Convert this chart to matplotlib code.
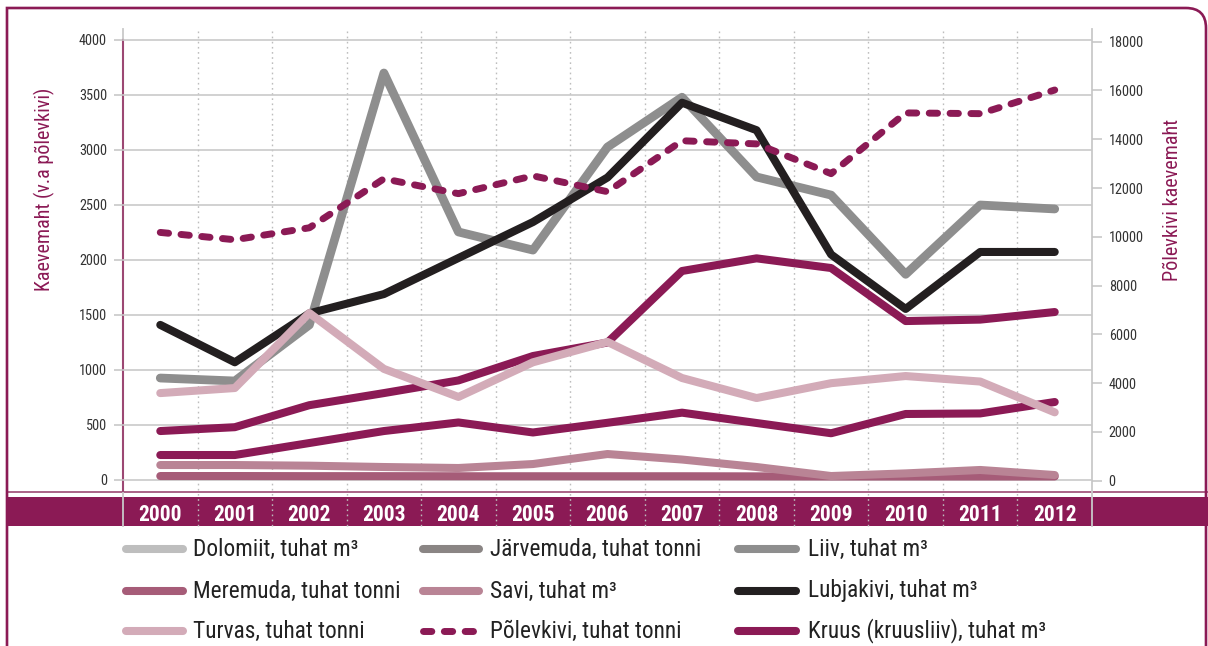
import matplotlib
matplotlib.use("Agg")
import matplotlib.pyplot as plt
from matplotlib.lines import Line2D
from matplotlib.patches import Rectangle, PathPatch
from matplotlib.path import Path
import matplotlib.transforms as mtransforms
from matplotlib import font_manager

# pick the narrowest available sans family
_fonts = font_manager.fontManager.ttflist
_names = {f.name for f in _fonts}
FONT = None
STRETCH = 'normal'
for cand in ['Liberation Sans Narrow', 'Roboto Condensed', 'Open Sans Condensed',
             'Noto Sans Condensed', 'DejaVu Sans Condensed']:
    if cand in _names:
        FONT = cand
        break
if FONT is None:
    for f in _fonts:
        if ('Condensed' in f.name or 'Narrow' in f.name) and 'Mono' not in f.name and 'Serif' not in f.name:
            FONT = f.name
            break
if FONT is None:
    for f in _fonts:
        st = f.stretch if isinstance(f.stretch, str) else str(f.stretch)
        if f.name in ('DejaVu Sans', 'Roboto', 'Noto Sans', 'Open Sans') and \
                (st in ('condensed', 'semi-condensed', 'extra-condensed') or
                 (st.isdigit() and int(st) < 500)):
            FONT = f.name
            STRETCH = 'condensed'
            break
NARROW = FONT is not None
if FONT is None:
    FONT = 'Roboto'
plt.rcParams['font.family'] = [FONT, 'DejaVu Sans']
plt.rcParams['font.stretch'] = STRETCH
SC = 1.0 if NARROW else 0.8  # scale font sizes when no narrow face exists

# ---------------- data ----------------
years = [2000, 2001, 2002, 2003, 2004, 2005, 2006, 2007, 2008, 2009, 2010, 2011, 2012]
liiv = [927, 900, 1410, 3700, 2255, 2090, 3027, 3480, 2755, 2590, 1870, 2500, 2464]
lubjakivi = [1410, 1070, 1515, 1690, 2018, 2345, 2750, 3430, 3180, 2050, 1555, 2073, 2073]
turvas = [790, 836, 1518, 1010, 755, 1070, 1255, 927, 745, 880, 945, 895, 615]
kruus = [445, 480, 680, 790, 905, 1127, 1250, 1900, 2015, 1927, 1445, 1458, 1527]
dolomiit = [227, 227, 336, 445, 523, 432, 520, 612, 518, 425, 600, 605, 709]
savi = [136, 136, 130, 118, 109, 145, 236, 186, 118, 36, 60, 91, 45]
meremuda = [36, 36, 35, 35, 34, 34, 34, 34, 33, 32, 32, 32, 32]
polevkivi = [10180, 9880, 10370, 12380, 11770, 12500, 11850, 13940, 13810, 12590, 15080, 15050, 16020]

left_ticks = [0, 500, 1000, 1500, 2000, 2500, 3000, 3500, 4000]
right_ticks = [0, 2000, 4000, 6000, 8000, 10000, 12000, 14000, 16000, 18000]

legend_labels = [
    ["Dolomiit, tuhat m³", "Järvemuda, tuhat tonni", "Liiv, tuhat m³"],
    ["Meremuda, tuhat tonni", "Savi, tuhat m³", "Lubjakivi, tuhat m³"],
    ["Turvas, tuhat tonni", "Põlevkivi, tuhat tonni", "Kruus (kruusliiv), tuhat m³"],
]

# ---------------- styles ----------------
PURPLE = '#8B1A55'
C_LIIV = '#8E8E8E'
C_LUBJ = '#231F20'
C_TURV = '#D3ABB8'
C_SAVI = '#B98495'
C_MERE = '#A65C78'
C_DOLO = '#BEBEBE'
C_JARV = '#8A8584'
GRID = '#C9C9C9'
TXT = '#333333'

W, H = 1208, 646
def fx(px):
    return px / W
def fy(py):
    return 1 - py / H

fig = plt.figure(figsize=(W / 100, H / 100), dpi=100)
fig.patch.set_facecolor('white')

ax = fig.add_axes([fx(123), fy(490), fx(1092) - fx(123), fy(29) - fy(490)])
ax.patch.set_alpha(0)
ax.set_xlim(1999.5, 2012.5)
ax.set_ylim(-91, 4100)
for s in ax.spines.values():
    s.set_visible(False)

ax.set_yticks(left_ticks)
ax.set_yticklabels([str(t) for t in left_ticks])
ax.tick_params(axis='y', length=6.5, width=1.1, color='#C4C4C4', pad=5,
               labelsize=10.3 * SC, labelcolor=TXT)
ax.yaxis.grid(True, color=GRID, lw=1.2)
ax.set_axisbelow(True)

ax.set_xticks(years)
ax.set_xticklabels([str(y) for y in years])
ax.tick_params(axis='x', length=0, pad=10, labelsize=15.5 * SC, labelcolor='white')
for lab in ax.get_xticklabels():
    lab.set_fontweight('bold')

ax2 = ax.twinx()
ax2.set_ylim(-381, 18521)
for s in ax2.spines.values():
    s.set_visible(False)
ax2.set_yticks(right_ticks)
ax2.set_yticklabels([str(t) for t in right_ticks])
ax2.tick_params(axis='y', length=7, width=1.1, color='#C4C4C4', pad=5,
                labelsize=10.3 * SC, labelcolor=TXT)

LW = 5.8
DASH = (0, (1.2, 1.8))
kw = dict(solid_capstyle='round', solid_joinstyle='round')
ax.plot(years, meremuda, color=C_MERE, lw=LW, zorder=2, **kw)
ax.plot(years, savi, color=C_SAVI, lw=LW, zorder=2.1, **kw)
ax.plot(years, dolomiit, color=PURPLE, lw=LW, zorder=2.2, **kw)
ax.plot(years, kruus, color=PURPLE, lw=LW, zorder=2.3, **kw)
ax.plot(years, liiv, color=C_LIIV, lw=6.3, zorder=2.4, **kw)
ax.plot(years, lubjakivi, color=C_LUBJ, lw=LW, zorder=2.5, **kw)
ax.plot(years, turvas, color=C_TURV, lw=LW, zorder=2.6, **kw)
ax2.plot(years, polevkivi, color=PURPLE, lw=5.0, linestyle=DASH,
         dash_capstyle='round', dash_joinstyle='round', zorder=3)

# ---------------- decorations (figure level, drawn beneath axes) ----------------
bt = mtransforms.blended_transform_factory(ax.transData, fig.transFigure)
for y in years[:-1]:
    fig.add_artist(Line2D([y + 0.5, y + 0.5], [fy(526), fy(29)], transform=bt,
                          color='#BDBDBD', lw=1.0, linestyle=(0, (1.2, 2.5)), zorder=-1))

fig.add_artist(Rectangle((fx(7), fy(526)), 1 - fx(7), fy(497) - fy(526),
                         transform=fig.transFigure, facecolor=PURPLE, edgecolor='none', zorder=-2))
fig.add_artist(Line2D([fx(7), 1], [fy(491.5), fy(491.5)], transform=fig.transFigure,
                      color='#A4577E', lw=1.3, zorder=-2))
fig.add_artist(Line2D([fx(123), fx(123)], [fy(526), fy(29)], transform=fig.transFigure,
                      color='#C9C9C9', lw=1.3, zorder=-1))
fig.add_artist(Line2D([fx(123), fx(123)], [fy(491), fy(40)], transform=fig.transFigure,
                      color='#9C4873', lw=1.5, zorder=-0.5))
fig.add_artist(Line2D([fx(1092), fx(1092)], [fy(526), fy(29)], transform=fig.transFigure,
                      color='#C9C9C9', lw=1.3, zorder=-1))

verts = [(fx(7), fy(700)), (fx(7), fy(8)), (fx(1186), fy(8)),
         (fx(1206), fy(8)), (fx(1206), fy(28)), (fx(1206), fy(700))]
codes = [Path.MOVETO, Path.LINETO, Path.LINETO, Path.CURVE3, Path.CURVE3, Path.LINETO]
fig.add_artist(PathPatch(Path(verts, codes), transform=fig.transFigure, facecolor='none',
                         edgecolor=PURPLE, lw=1.9, zorder=5, clip_on=False))

fig.text(fx(44), fy(189), "Kaevemaht (v.a põlevkivi)", rotation=90, ha='center', va='center',
         color=PURPLE, fontsize=14.5 * SC)
fig.text(fx(1172), fy(200), "Põlevkivi kaevemaht", rotation=90, ha='center', va='center',
         color=PURPLE, fontsize=14.5 * SC)

# ---------------- legend ----------------
leg_colors = [
    [C_DOLO, C_JARV, C_LIIV],
    [C_MERE, C_SAVI, C_LUBJ],
    [C_TURV, PURPLE, PURPLE],
]
row_y = [549, 591, 631]
col_handle = [(126, 183), (423, 479), (738, 796)]
col_text = [193, 490, 808]
for r in range(3):
    for c in range(3):
        x0, x1 = col_handle[c]
        if r == 2 and c == 1:
            fig.add_artist(Line2D([fx(x0), fx(x1)], [fy(row_y[r])] * 2, transform=fig.transFigure,
                                  color=leg_colors[r][c], lw=5.0, linestyle=DASH,
                                  dash_capstyle='round'))
        else:
            fig.add_artist(Line2D([fx(x0), fx(x1)], [fy(row_y[r])] * 2, transform=fig.transFigure,
                                  color=leg_colors[r][c], lw=5.8, solid_capstyle='round'))
        fig.text(fx(col_text[c]), fy(row_y[r]), legend_labels[r][c], ha='left', va='center',
                 color='#222222', fontsize=16.8 * SC)

fig.savefig("out.png", dpi=100, facecolor='white')
